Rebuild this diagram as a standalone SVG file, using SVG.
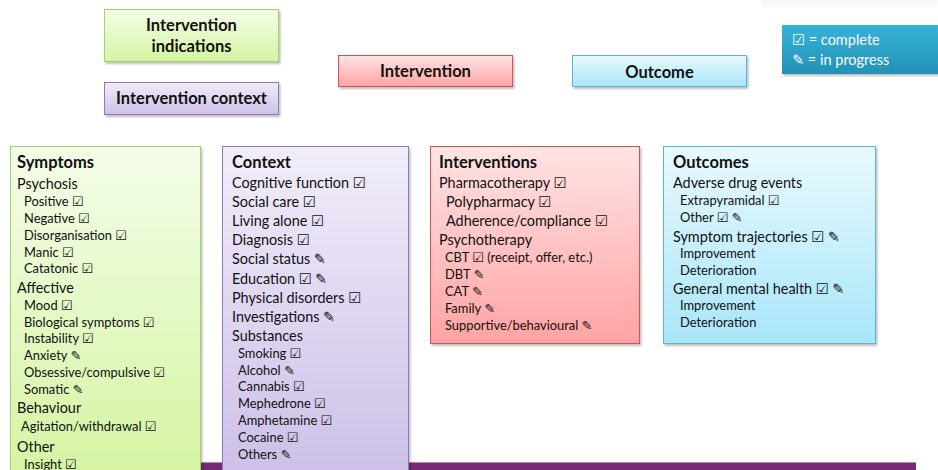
<svg xmlns="http://www.w3.org/2000/svg" width="938" height="470" viewBox="0 0 938 470">
  <defs>
    <linearGradient id="gGreen" x1="0" y1="0" x2="0" y2="1">
      <stop offset="0" stop-color="#f4fde9"/>
      <stop offset="1" stop-color="#d5f4a2"/>
    </linearGradient>
    <linearGradient id="gPurple" x1="0" y1="0" x2="0" y2="1">
      <stop offset="0" stop-color="#f1edf9"/>
      <stop offset="1" stop-color="#cdbfe8"/>
    </linearGradient>
    <linearGradient id="gRed" x1="0" y1="0" x2="0" y2="1">
      <stop offset="0" stop-color="#ffe4e4"/>
      <stop offset="1" stop-color="#ffa3a3"/>
    </linearGradient>
    <linearGradient id="gBlue" x1="0" y1="0" x2="0" y2="1">
      <stop offset="0" stop-color="#e9f9fe"/>
      <stop offset="1" stop-color="#a8e6f9"/>
    </linearGradient>
    <linearGradient id="gTeal" x1="0" y1="0" x2="0" y2="1">
      <stop offset="0" stop-color="#35b3da"/>
      <stop offset="1" stop-color="#2591b4"/>
    </linearGradient>
    <filter id="shadow" x="-5%" y="-5%" width="115%" height="120%">
      <feDropShadow dx="1.5" dy="2" stdDeviation="1.2" flood-color="#000" flood-opacity="0.25"/>
    </filter>
    <filter id="haze" x="-10%" y="-100%" width="120%" height="300%">
      <feGaussianBlur stdDeviation="2"/>
    </filter>
  </defs>
  <style>
    text { font-family: Lato, "DejaVu Sans", sans-serif; fill: #111; }
    .hd { font-weight: bold; font-size: 16.5px; text-anchor: middle; }
    .ti { font-weight: bold; font-size: 16.5px; }
    .l1 { font-size: 14.4px; }
    .l2 { font-size: 12.9px; }
    .lg { font-size: 14.5px; fill: #fff; }
    .green { fill: url(#gGreen); stroke: #9fd46a; stroke-width: 1; }
    .purple { fill: url(#gPurple); stroke: #9178bd; stroke-width: 1; }
    .red { fill: url(#gRed); stroke: #cf5553; stroke-width: 1; }
    .blue { fill: url(#gBlue); stroke: #55b7d4; stroke-width: 1; }
  </style>

  <!-- faint strip at the top right edge -->
  <rect x="762" y="-4" width="176" height="10" fill="#ececec" opacity="0.45" filter="url(#haze)"/>

  <!-- legend headers -->
  <g id="hdr-indications">
    <rect class="green" x="104.5" y="9.5" width="174" height="52" filter="url(#shadow)"/>
    <text class="hd" x="191.5" y="31">Intervention</text>
    <text class="hd" x="191.5" y="51.5">indications</text>
  </g>
  <g id="hdr-context">
    <rect class="purple" x="104.5" y="82.5" width="174" height="32" filter="url(#shadow)"/>
    <text class="hd" x="191.5" y="104">Intervention context</text>
  </g>
  <g id="hdr-intervention">
    <rect class="red" x="338.5" y="55.5" width="174" height="31" filter="url(#shadow)"/>
    <text class="hd" x="425.5" y="77">Intervention</text>
  </g>
  <g id="hdr-outcome">
    <rect class="blue" x="572.5" y="55.5" width="174" height="31" filter="url(#shadow)"/>
    <text class="hd" x="659.5" y="77.5">Outcome</text>
  </g>

  <!-- status key -->
  <g id="key">
    <rect x="782" y="25" width="160" height="49" fill="url(#gTeal)" filter="url(#shadow)"/>
    <text class="lg" x="792" y="45">☑ = complete</text>
    <text class="lg" x="792" y="65">✎ = in progress</text>
  </g>

  <!-- base bar -->
  <g id="bar">
    <rect x="200" y="462" width="716" height="10" fill="#762b73"/>
    <rect x="200" y="462" width="716" height="1" fill="#b48ab2"/>
  </g>

  <!-- Symptoms column -->
  <g id="col-symptoms">
    <rect class="green" x="10.5" y="146.5" width="190" height="330" filter="url(#shadow)"/>
    <text class="ti" x="17" y="168">Symptoms</text>
    <text class="l1" x="17" y="189">Psychosis</text>
    <text class="l2" x="24" y="206">Positive ☑</text>
    <text class="l2" x="24" y="223">Negative ☑</text>
    <text class="l2" x="24" y="240">Disorganisation ☑</text>
    <text class="l2" x="24" y="257">Manic ☑</text>
    <text class="l2" x="24" y="273">Catatonic ☑</text>
    <text class="l1" x="17" y="293">Affective</text>
    <text class="l2" x="24" y="310">Mood ☑</text>
    <text class="l2" x="24" y="327">Biological symptoms ☑</text>
    <text class="l2" x="24" y="343">Instability ☑</text>
    <text class="l2" x="24" y="360">Anxiety ✎</text>
    <text class="l2" x="24" y="377">Obsessive/compulsive ☑</text>
    <text class="l2" x="24" y="394">Somatic ✎</text>
    <text class="l1" x="17" y="413">Behaviour</text>
    <text class="l2" x="21" y="431">Agitation/withdrawal ☑</text>
    <text class="l1" x="17" y="452">Other</text>
    <text class="l2" x="24" y="469">Insight ☑</text>
  </g>

  <!-- Context column -->
  <g id="col-context">
    <rect class="purple" x="222.5" y="146.5" width="186" height="330" filter="url(#shadow)"/>
    <text class="ti" x="232" y="168">Context</text>
    <text class="l1" x="232" y="188">Cognitive function ☑</text>
    <text class="l1" x="232" y="207">Social care ☑</text>
    <text class="l1" x="232" y="226">Living alone ☑</text>
    <text class="l1" x="232" y="245">Diagnosis ☑</text>
    <text class="l1" x="232" y="264">Social status ✎</text>
    <text class="l1" x="232" y="284">Education ☑ ✎</text>
    <text class="l1" x="232" y="303">Physical disorders ☑</text>
    <text class="l1" x="232" y="322">Investigations ✎</text>
    <text class="l1" x="232" y="341">Substances</text>
    <text class="l2" x="238" y="358">Smoking ☑</text>
    <text class="l2" x="238" y="375">Alcohol ✎</text>
    <text class="l2" x="238" y="391">Cannabis ☑</text>
    <text class="l2" x="238" y="408">Mephedrone ☑</text>
    <text class="l2" x="238" y="425">Amphetamine ☑</text>
    <text class="l2" x="238" y="442">Cocaine ☑</text>
    <text class="l2" x="238" y="459">Others ✎</text>
  </g>

  <!-- Interventions column -->
  <g id="col-interventions">
    <rect class="red" x="430.5" y="146.5" width="209" height="197" filter="url(#shadow)"/>
    <text class="ti" x="439" y="168">Interventions</text>
    <text class="l1" x="439" y="188">Pharmacotherapy ☑</text>
    <text class="l1" x="446" y="207">Polypharmacy ☑</text>
    <text class="l1" x="446" y="226">Adherence/compliance ☑</text>
    <text class="l1" x="439" y="245">Psychotherapy</text>
    <text class="l2" x="445" y="262">CBT ☑ (receipt, offer, etc.)</text>
    <text class="l2" x="445" y="279">DBT ✎</text>
    <text class="l2" x="445" y="296">CAT ✎</text>
    <text class="l2" x="445" y="313">Family ✎</text>
    <text class="l2" x="445" y="330">Supportive/behavioural ✎</text>
  </g>

  <!-- Outcomes column -->
  <g id="col-outcomes">
    <rect class="blue" x="663.5" y="146.5" width="212" height="197" filter="url(#shadow)"/>
    <text class="ti" x="673" y="168">Outcomes</text>
    <text class="l1" x="673" y="188">Adverse drug events</text>
    <text class="l2" x="680" y="205">Extrapyramidal ☑</text>
    <text class="l2" x="680" y="222">Other ☑ ✎</text>
    <text class="l1" x="673" y="242">Symptom trajectories ☑ ✎</text>
    <text class="l2" x="680" y="258">Improvement</text>
    <text class="l2" x="680" y="275">Deterioration</text>
    <text class="l1" x="673" y="294">General mental health ☑ ✎</text>
    <text class="l2" x="680" y="310">Improvement</text>
    <text class="l2" x="680" y="327">Deterioration</text>
  </g>
</svg>
